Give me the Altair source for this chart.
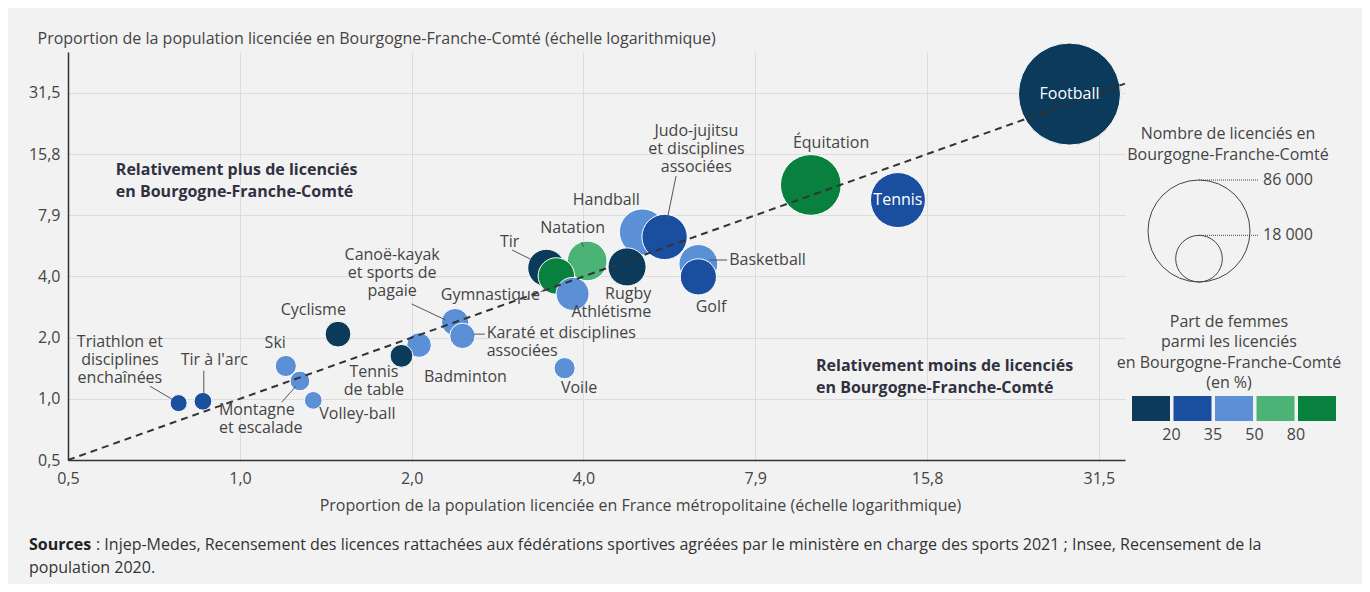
import math
import altair as alt
import pandas as pd

# ---------------- data ----------------
sports = ["Football", "Tennis", "Équitation", "Judo-jujitsu", "Handball", "Basketball",
          "Rugby", "Natation", "Tir", "Gymnastique", "Golf", "Athlétisme", "Canoë-kayak",
          "Cyclisme", "Karaté", "Badminton", "Tennis de table", "Voile", "Ski",
          "Montagne et escalade", "Volley-ball", "Tir à l'arc", "Triathlon"]
france = [28.0, 14.05, 9.9, 5.5, 5.03, 6.3, 4.73, 4.03, 3.42, 3.56, 6.3, 3.80, 2.37,
          1.48, 2.44, 2.05, 1.91, 3.68, 1.20, 1.27, 1.34, 0.86, 0.78]
bfc = [31.1, 9.4, 11.15, 6.2, 6.56, 4.57, 4.42, 4.73, 4.37, 3.99, 3.95, 3.26, 2.37,
       2.07, 2.03, 1.83, 1.62, 1.41, 1.445, 1.22, 0.98, 0.97, 0.95]
licencies = [86000, 25000, 30500, 17000, 17500, 12500, 12000, 13000, 11500, 11000, 10800,
             9000, 6200, 5500, 5300, 5000, 4300, 3700, 3700, 3200, 2600, 2600, 2400]
classe = ["<20", "20-35", ">80", "20-35", "35-50", "35-50", "<20", "50-80", "<20", ">80",
          "20-35", "35-50", "35-50", "<20", "35-50", "35-50", "<20", "35-50", "35-50",
          "35-50", "35-50", "20-35", "20-35"]

classes = ["<20", "20-35", "35-50", "50-80", ">80"]
colors = ["#0c3a5b", "#1a4f9f", "#5b8fd6", "#4cb377", "#08813f"]
class_ticks = ["20", "35", "50", "80"]

axis_ticks = [0.5, 0.998, 1.99, 3.97, 7.92, 15.8, 31.5]
diag = [0.5, 35.0]

# labels (text, x, y in data units; y = first line)
lab_center = ["Équitation", "Judo-jujitsu\net disciplines\nassociées", "Handball", "Natation", "Tir",
              "Canoë-kayak\net sports de\npagaie", "Gymnastique", "Rugby", "Athlétisme", "Golf",
              "Cyclisme", "Ski", "Triathlon et\ndisciplines\nenchaînées", "Tir à l'arc",
              "Volley-ball", "Tennis\nde table", "Badminton", "Voile"]
lab_center_x = [10.74, 6.25, 4.35, 3.80, 2.95, 1.84, 2.73, 4.75, 4.44, 6.63, 1.34, 1.15,
                0.616, 0.90, 1.60, 1.71, 2.47, 3.90]
lab_center_y = [17.9, 20.6, 9.4, 6.86, 5.86, 5.06, 3.22, 3.26, 2.66, 2.81, 2.72, 1.87,
                1.90, 1.55, 0.84, 1.35, 1.28, 1.13]
lab_left = ["Basketball", "Karaté et disciplines\nassociées", "Montagne\net escalade"]
lab_left_x = [7.13, 2.69, 0.917]
lab_left_y = [4.78, 2.10, 0.882]
lab_white = ["Football", "Tennis"]
lab_white_x = [28.0, 14.05]
lab_white_y = [31.1, 9.4]

lead_x1 = [5.76, 3.94, 2.98, 1.99, 3.34, 6.58, 0.695, 0.863, 1.18, 2.55]
lead_y1 = [12.34, 5.86, 5.35, 2.91, 3.33, 4.78, 1.15, 1.37, 0.96, 2.07]
lead_x2 = [5.56, 3.97, 3.23, 2.28, 3.48, 7.07, 0.759, 0.863, 1.25, 2.67]
lead_y2 = [7.6, 5.54, 4.78, 2.43, 3.56, 4.78, 0.995, 1.05, 1.15, 2.07]

zones = ["Relativement plus de licenciés\nen Bourgogne-Franche-Comté",
         "Relativement moins de licenciés\nen Bourgogne-Franche-Comté"]
zones_x = [0.606, 10.11]
zones_y = [13.2, 1.44]

legend_sizes = [86000, 18000]

# ---------------- style ----------------
W, H = 1057, 408
NMAX = 86000
RMAX = 51
SMAX = (2 * RMAX) ** 2          # vega symbol size -> diameter = sqrt(size)
TXT = "#444444"
FONT = "Open Sans"
FS = 16

xs = alt.Scale(type="log", domain=[0.5, 35], nice=False)
ys = alt.Scale(type="log", domain=[0.5, 50], nice=False)
ss = alt.Scale(domain=[0, NMAX], range=[0, SMAX], zero=True)
cs = alt.Scale(domain=classes, range=colors)
lab_expr = "replace(format(datum.value, '.1f'), '.', ',')"

xaxis = alt.Axis(values=axis_ticks, labelExpr=lab_expr, grid=True, ticks=False, labelFlush=False,
                 title="Proportion de la population licenciée en France métropolitaine (échelle logarithmique)",
                 titleX=572, titleY=45, titleAlign="center", titleBaseline="middle",
                 labelPadding=10)
yaxis = alt.Axis(values=axis_ticks, labelExpr=lab_expr, grid=True, ticks=False, labelFlush=False,
                 title="Proportion de la population licenciée en Bourgogne-Franche-Comté (échelle logarithmique)",
                 titleAngle=0, titleX=-31, titleY=-14, titleAlign="left", titleBaseline="middle",
                 labelPadding=8)

df = pd.DataFrame({"sport": sports, "france": france, "bfc": bfc,
                   "licencies": licencies, "part": classe})

bubbles = alt.Chart(df).mark_circle(opacity=1, stroke="white", strokeWidth=1).encode(
    x=alt.X("france:Q", scale=xs, axis=xaxis),
    y=alt.Y("bfc:Q", scale=ys, axis=yaxis),
    size=alt.Size("licencies:Q", scale=ss, legend=None),
    color=alt.Color("part:N", scale=cs, legend=None),
    order=alt.Order("licencies:Q", sort="descending"),
)

diag_line = alt.Chart(pd.DataFrame({"v": diag})).mark_line(
    color="#333333", strokeDash=[7, 5], strokeWidth=2).encode(
    x=alt.X("v:Q", scale=xs, axis=xaxis), y=alt.Y("v:Q", scale=ys, axis=yaxis))

leaders = alt.Chart(pd.DataFrame({"x1": lead_x1, "y1": lead_y1, "x2": lead_x2, "y2": lead_y2})).mark_rule(
    color="#555555", strokeWidth=1).encode(
    x=alt.X("x1:Q", scale=xs, axis=xaxis), y=alt.Y("y1:Q", scale=ys, axis=yaxis),
    x2="x2:Q", y2="y2:Q")


def labels(texts, xv, yv, align="center", color=TXT, weight="normal", lh=18):
    d = pd.DataFrame({"t": texts, "lx": xv, "ly": yv})
    return alt.Chart(d).mark_text(align=align, baseline="middle", fontSize=FS, color=color,
                                  fontWeight=weight, lineBreak="\n", lineHeight=lh).encode(
        x=alt.X("lx:Q", scale=xs, axis=xaxis), y=alt.Y("ly:Q", scale=ys, axis=yaxis), text="t:N")


one = pd.DataFrame({"k": [0]})


def deco_text(lines, x, y, align="center", weight="normal", lh=20.5, color=TXT, size=FS):
    return alt.Chart(one).mark_text(text=lines, align=align, baseline="middle", fontSize=size,
                                    fontWeight=weight, lineHeight=lh, color=color).encode(
        x=alt.value(x), y=alt.value(y))


layers = [bubbles, diag_line, leaders,
          labels(lab_center, lab_center_x, lab_center_y),
          labels(lab_left, lab_left_x, lab_left_y, align="left"),
          labels(lab_white, lab_white_x, lab_white_y, color="white"),
          labels(zones, zones_x, zones_y, align="left", color="#2f3140", weight="bold", lh=22)]

# size legend
layers.append(deco_text(["Nombre de licenciés en", "Bourgogne-Franche-Comté"], 1160, 82, lh=21))
LEG_CX, LEG_BOTTOM = 1131, 230
for n in legend_sizes:
    r = math.sqrt(SMAX * n / NMAX) / 2
    layers.append(alt.Chart(pd.DataFrame({"licencies": [n]})).mark_point(
        shape="circle", filled=False, opacity=1, stroke="#444444", strokeWidth=1).encode(
        size=alt.Size("licencies:Q", scale=ss, legend=None),
        x=alt.value(LEG_CX), y=alt.value(LEG_BOTTOM - r)))
    top = LEG_BOTTOM - 2 * r
    layers.append(alt.Chart(one).mark_rule(color="#444444", strokeWidth=1, strokeDash=[1, 1]).encode(
        x=alt.value(LEG_CX), x2=alt.value(1190), y=alt.value(top)))
    layers.append(deco_text(f"{n:,}".replace(",", " "), 1195, top, align="left"))

# colour legend
layers.append(deco_text(["Part de femmes", "parmi les licenciés", "en Bourgogne-Franche-Comté", "(en %)"],
                        1161, 270, lh=20.3))
for i, c in enumerate(colors):
    x0 = 1064 + i * 41.5
    layers.append(alt.Chart(one).mark_rect(color=c).encode(
        x=alt.value(x0), x2=alt.value(x0 + 38), y=alt.value(344), y2=alt.value(369)))
for i, t in enumerate(class_ticks):
    layers.append(deco_text(t, 1064 + 39.5 + i * 41.5, 383))

# sources
layers.append(deco_text("Sources", -39, 493, align="left", weight="bold", color="#222222"))
layers.append(deco_text(": Injep-Medes, Recensement des licences rattachées aux fédérations sportives agréées "
                        "par le ministère en charge des sports 2021 ; Insee, Recensement de la",
                        28, 493, align="left", color="#333333"))
layers.append(deco_text("population 2020.", -39, 516, align="left", color="#333333"))

chart = alt.layer(*layers).properties(
    width=W, height=H,
    padding={"left": 60, "top": 44, "right": 237, "bottom": 124},
    autosize=alt.AutoSizeParams(type="none"),
    background="#f2f2f2",
).configure(font=FONT).configure_axis(
    gridColor="#dcdcdc", gridWidth=1, domainColor="#333333", domainWidth=1.5,
    labelFontSize=FS, labelColor=TXT, titleFontSize=FS, titleColor=TXT,
    titleFontWeight="normal", labelFont=FONT, titleFont=FONT,
).configure_view(stroke=None)

chart.save("out.html", embed_options={"renderer": "svg", "actions": False})
